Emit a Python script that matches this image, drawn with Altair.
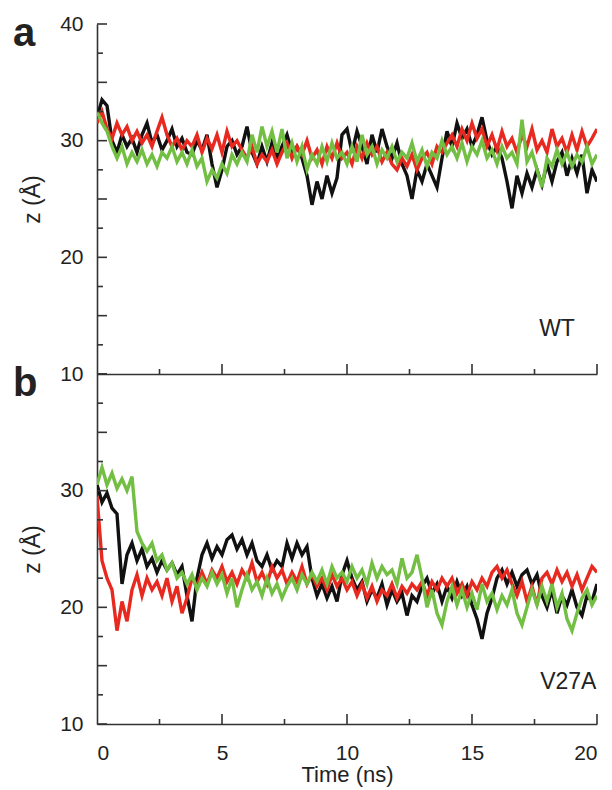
import altair as alt
import pandas as pd

# time grid (ns), 0.2 ns spacing
TIME = [round(i * 0.2, 1) for i in range(101)]

# ---- panel a (WT) ----
A_BLACK = [32.0, 33.5, 33.0, 30.0, 29.0, 30.5, 29.5, 30.2, 29.0, 30.5,
           31.5, 29.8, 30.5, 29.2, 30.0, 31.0, 29.5, 30.2, 29.0, 28.8,
           30.0, 29.2, 30.5, 28.0, 26.0, 27.5, 29.5, 30.0, 28.8, 29.5,
           31.2, 29.0, 28.0, 29.5, 28.2, 29.8, 28.5, 29.5, 30.5, 29.0,
           29.5, 28.5, 27.0, 24.5, 26.5, 25.0, 27.0, 25.5, 26.8, 30.5,
           31.0, 29.0, 30.8, 29.5, 28.0, 30.5, 29.0, 31.0, 29.5, 28.5,
           29.8, 28.0, 27.0, 25.0, 27.5, 26.5, 28.0, 27.0, 26.0, 28.5,
           30.8, 29.5, 31.5, 30.2, 31.0, 29.5, 30.5, 32.0, 30.0, 28.8,
           29.5, 28.5, 26.5, 24.2, 27.0, 25.5, 27.2, 26.0, 27.5, 26.2,
           28.0, 26.5, 28.2, 29.0, 27.0, 28.5, 27.2, 28.8, 25.5, 27.5,
           26.5]
A_RED = [31.5, 32.5, 31.0, 30.2, 31.5, 30.5, 31.2, 30.0, 30.8, 29.8,
         30.5, 29.5, 30.8, 32.0, 30.5, 29.5, 30.2, 29.2, 30.0, 29.5,
         30.5, 29.0, 30.2, 29.3, 30.5, 29.0, 30.8, 29.5, 30.0, 29.2,
         28.5, 29.5, 28.0, 28.8, 28.2, 29.2, 28.0, 29.0, 29.8, 28.5,
         29.5, 28.8, 30.0, 28.5, 29.2, 28.0, 29.5, 28.5, 29.8, 28.5,
         29.0, 28.0, 29.5, 28.5, 29.8, 28.8, 29.5, 28.2, 29.0, 28.0,
         27.5, 28.5, 27.8, 28.8, 27.5, 28.5, 29.0, 28.0, 29.5, 29.0,
         29.8, 30.5, 29.5, 31.0, 30.0, 31.5, 30.2, 31.0, 29.5, 30.5,
         29.2, 30.8, 29.5, 30.2, 29.0, 30.5, 29.5, 31.0, 29.2, 30.0,
         29.0, 31.0, 29.5, 30.2, 29.0, 30.5, 29.2, 30.8, 29.5, 30.2,
         31.0]
A_GREEN = [32.5, 31.5, 30.8, 29.5, 28.5, 29.5, 28.0, 29.0, 28.2, 29.2,
           28.0, 28.8, 27.8, 29.0, 28.5, 29.5, 28.2, 29.0, 28.0, 29.2,
           27.8, 28.5, 26.5, 27.5, 26.8, 28.0, 27.2, 28.8, 28.0, 29.0,
           28.2, 30.5, 29.0, 31.2, 29.5, 30.8, 29.0, 31.0, 28.5, 29.8,
           28.2, 29.5, 27.5, 28.8, 28.0, 29.5, 28.2, 29.8, 28.5, 29.0,
           28.0, 29.5, 28.2, 30.5, 28.8, 29.5, 28.0, 29.2, 28.5, 29.5,
           28.2, 29.0, 28.5, 29.8, 28.2, 29.2, 27.8, 29.0, 28.5, 30.0,
           28.8, 29.5, 28.5, 29.8, 28.2, 29.5, 28.8, 30.0, 28.5, 29.2,
           28.0, 29.5, 28.5, 29.0, 28.0, 31.8, 28.2, 29.0, 27.5, 26.0,
           28.5, 27.8, 29.2, 28.0, 29.0, 27.8, 28.8, 28.2, 29.5, 28.0,
           28.8]

# ---- panel b (V27A) ----
B_BLACK = [30.5, 29.0, 29.8, 28.5, 28.0, 22.0, 24.5, 25.5, 24.0, 25.0,
           23.5, 24.2, 23.0, 24.0, 23.2, 23.8, 22.8, 23.5, 21.0, 18.8,
           22.5, 24.5, 25.5, 24.2, 25.2, 24.5, 25.8, 26.2, 25.0, 25.8,
           24.5, 25.5, 24.0, 23.5, 24.5, 23.2, 24.0, 23.5, 25.5, 24.2,
           25.5, 24.5, 25.2, 22.5, 21.0, 22.0, 20.8, 21.8, 20.5, 22.8,
           24.0, 22.5, 21.5, 22.2, 20.5, 21.5, 20.8, 22.0, 20.2, 21.5,
           20.5, 21.2, 19.3, 21.0, 20.5, 21.8, 22.5, 21.2, 22.0, 20.5,
           21.8, 20.8, 22.2, 21.0, 21.8, 20.2, 19.0, 17.3, 19.5, 20.8,
           22.5, 23.2, 22.0, 23.0, 21.8, 22.8, 23.2, 22.0, 22.8, 21.0,
           20.0, 21.5, 19.5, 21.0, 20.2, 21.5, 20.0, 19.3, 21.0, 20.5,
           22.0]
B_RED = [29.5, 24.0, 22.5, 21.5, 18.0, 20.5, 18.8, 21.5, 22.8, 21.0,
         22.5, 21.5, 22.2, 21.0, 22.5, 20.5, 21.8, 19.5, 20.8, 22.5,
         21.8, 23.0, 22.0, 23.2, 22.5, 23.5, 22.2, 23.0, 22.0, 23.2,
         22.5, 23.8, 22.2, 23.0, 22.0, 23.5, 22.5, 23.2, 22.0, 23.0,
         22.2, 23.5, 22.0, 22.8, 21.8, 22.5, 21.5, 22.8, 21.8, 22.5,
         21.5, 22.2, 21.0, 22.0, 20.8, 21.8, 20.5, 21.5, 21.0, 22.0,
         20.8, 21.8, 21.2, 22.0, 21.5, 22.2, 21.0, 22.2, 21.5, 22.5,
         21.8, 22.5, 21.2, 22.0, 21.0, 22.2, 21.5, 22.5, 21.8, 23.0,
         23.5, 22.5, 23.2, 22.0, 21.0, 22.2, 20.5, 21.8, 20.2, 22.5,
         23.0, 22.0, 23.2, 22.2, 23.0, 21.8, 22.8, 21.5, 22.5, 23.5,
         23.0]
B_GREEN = [30.5, 32.0, 30.5, 31.5, 30.2, 31.0, 30.0, 31.2, 26.5, 25.5,
           24.8, 25.5, 24.0, 24.5, 23.2, 23.8, 22.5, 23.0, 22.0, 22.8,
           21.5, 22.5, 21.8, 23.0, 22.0, 22.8, 21.2, 22.5, 20.0, 21.5,
           22.8, 21.5, 22.2, 21.0, 22.5, 21.2, 22.0, 20.8, 21.8, 22.5,
           21.5, 22.8, 22.0, 23.0, 22.2, 23.2, 22.0, 23.5, 22.5, 23.0,
           22.2, 23.5, 22.5, 23.2, 22.0, 23.8, 22.5, 23.5, 22.8, 23.2,
           22.0, 24.2, 22.5, 23.0, 24.5, 22.5, 20.0, 21.5, 19.5, 18.5,
           20.5, 21.8, 20.2, 21.5, 20.0, 21.2, 19.8, 22.0, 20.5, 21.2,
           19.8, 21.0, 20.2, 21.5, 19.5, 18.5, 20.0, 21.5, 20.2, 21.8,
           20.5, 22.0, 20.0, 21.2, 19.0, 18.0, 19.5, 20.8, 21.5, 20.2,
           21.0]

# axis tick positions
Y_MAJOR = [10, 15, 20, 25, 30, 35, 40]
Y_MINOR = [12.5, 17.5, 22.5, 27.5, 32.5, 37.5]
X_MAJOR = [5, 10, 15, 20]
X_MINOR = [2.5, 7.5, 12.5, 17.5]

COLORS = {"black": "#111111", "red": "#e8291f", "green": "#72bf44"}
FONT = "Liberation Sans"
W, H = 500, 350

xscale = alt.Scale(domain=[0, 20], nice=False, zero=False)
yscale = alt.Scale(domain=[10, 40], nice=False, zero=False)


def panel(black, red, green, tag, name, name_t, name_z, bottom):
    if bottom:
        xaxis = alt.Axis(
            values=[0, 5, 10, 15, 20], ticks=False, grid=False,
            labelFontSize=21, labelFont=FONT, labelColor="#222",
            labelPadding=18, domainColor="#333", domainWidth=1.6,
            title="Time (ns)", titleFont=FONT, titleFontSize=22,
            titleFontWeight="normal", titleColor="#222", titlePadding=1)
    else:
        xaxis = alt.Axis(
            ticks=False, grid=False, labels=False, labelPadding=0,
            domainColor="#333", domainWidth=1.6, title=None)
    yaxis = alt.Axis(
        values=[10, 20, 30, 40] if not bottom else [10, 20, 30],
        ticks=False, grid=False, labelFontSize=21,
        labelFont=FONT, labelColor="#222", labelPadding=14,
        domainColor="#333", domainWidth=1.6,
        title="z (Å)", titleFont=FONT, titleFontSize=23,
        titleFontWeight="normal", titleColor="#222", titlePadding=15)

    layers = []
    for series, key in ((black, "black"), (red, "red"), (green, "green")):
        df = pd.DataFrame({"t": TIME, "z": series})
        layers.append(
            alt.Chart(df).mark_line(color=COLORS[key], strokeWidth=3.4,
                                    strokeJoin="miter", clip=True).encode(
                x=alt.X("t:Q", scale=xscale, axis=xaxis),
                y=alt.Y("z:Q", scale=yscale, axis=yaxis),
            )
        )
    # inward ticks on y axis
    for vals, ln in ((Y_MAJOR, 10), (Y_MINOR, 6)):
        layers.append(
            alt.Chart(pd.DataFrame({"z": vals})).mark_rule(color="#333", strokeWidth=1.6).encode(
                y=alt.Y("z:Q", scale=yscale, axis=yaxis),
                x=alt.value(0), x2=alt.value(ln))
        )
    # inward ticks on x axis
    for vals, ln in ((X_MAJOR, 10), (X_MINOR, 5)):
        layers.append(
            alt.Chart(pd.DataFrame({"t": vals})).mark_rule(color="#333", strokeWidth=1.6).encode(
                x=alt.X("t:Q", scale=xscale, axis=xaxis),
                y=alt.value(H), y2=alt.value(H - ln))
        )
    # panel tag
    layers.append(
        alt.Chart(pd.DataFrame({"s": [tag]})).mark_text(
            font=FONT, fontSize=40, fontWeight="bold", align="left",
            baseline="alphabetic", color="#222").encode(
            text="s:N", x=alt.value(-84), y=alt.value(22))
    )
    # sample name
    layers.append(
        alt.Chart(pd.DataFrame({"t": [name_t], "z": [name_z], "s": [name]})).mark_text(
            font=FONT, fontSize=23, align="center", baseline="middle",
            color="#222").encode(
            text="s:N",
            x=alt.X("t:Q", scale=xscale, axis=xaxis),
            y=alt.Y("z:Q", scale=yscale, axis=yaxis))
    )
    return alt.layer(*layers).properties(width=W, height=H)


pa = panel(A_BLACK, A_RED, A_GREEN, "a", "WT", 18.4, 13.9, False)
pb = panel(B_BLACK, B_RED, B_GREEN, "b", "V27A", 18.85, 13.6, True)

chart = alt.vconcat(pa, pb, spacing=0, bounds="flush").configure(
    background="white", view=alt.ViewConfig(stroke=None))

chart.save("out.html", embed_options={"renderer": "svg", "actions": False})
